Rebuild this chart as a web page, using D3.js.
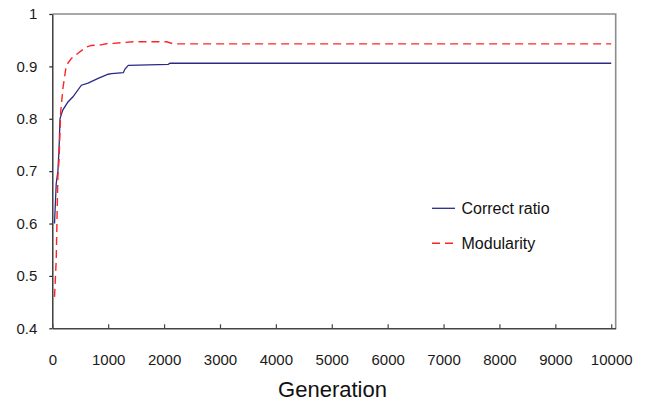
<!DOCTYPE html>
<html>
<head>
<meta charset="utf-8">
<script src="https://cdn.jsdelivr.net/npm/d3@7"></script>
<style>
  html, body { margin: 0; padding: 0; background: #fff; }
  svg { display: block; font-family: "Liberation Sans", Arial, sans-serif; }
</style>
</head>
<body>
<svg id="chart" width="651" height="409"></svg>
<script>
// Correct ratio over generations
const correctGen = [40, 70, 100, 120, 138, 160, 190, 280, 370, 520, 640, 820, 1000, 1060, 1270, 1300, 1360, 2075, 2105, 10000];
const correctVal = [0.600, 0.676, 0.700, 0.740, 0.800, 0.808, 0.817, 0.832, 0.842, 0.864, 0.868, 0.877, 0.885, 0.886, 0.888, 0.895, 0.902, 0.904, 0.906, 0.906];

// Modularity over generations
const modularityGen = [40, 70, 85, 100, 120, 150, 190, 250, 340, 460, 610, 700, 870, 1000, 1090, 1450, 2045, 2165, 10000];
const modularityVal = [0.460, 0.530, 0.613, 0.690, 0.720, 0.813, 0.858, 0.902, 0.915, 0.925, 0.937, 0.940, 0.941, 0.944, 0.944, 0.947, 0.947, 0.943, 0.943];

const xTicks = [0, 1000, 2000, 3000, 4000, 5000, 6000, 7000, 8000, 9000, 10000];
const yTicks = [0.4, 0.5, 0.6, 0.7, 0.8, 0.9, 1];
const seriesNames = ["Correct ratio", "Modularity"];
const xTitle = "Generation";

const svg = d3.select("#chart");
const plotLeft = 52.3, plotRight = 615.7, plotTop = 14, plotBottom = 328.3;

// plot area runs slightly past the last generation tick
const x = d3.scaleLinear().domain([0, 10080]).range([plotLeft, plotRight]);
const y = d3.scaleLinear().domain([0.4, 1]).range([plotBottom, plotTop]);

// top and right frame of the plot area
svg.append("path")
  .attr("d", `M${plotLeft},${plotTop}H${plotRight}V${plotBottom}`)
  .attr("fill", "none")
  .attr("stroke", "#8c8c8c")
  .attr("stroke-width", 1.6);

// y axis
const yAxis = svg.append("g")
  .attr("transform", `translate(${plotLeft},0)`)
  .call(d3.axisLeft(y).tickValues(yTicks).tickFormat(d3.format("")).tickSizeInner(3).tickSizeOuter(0).tickPadding(12));
yAxis.select(".domain").attr("stroke", "#222").attr("stroke-width", 1.3);
yAxis.selectAll(".tick line").attr("stroke", "#222").attr("stroke-width", 1.2);
yAxis.selectAll("text").attr("font-size", 15).attr("fill", "#1a1a1a")
  .attr("font-family", "Liberation Sans, Arial, sans-serif");

// x axis, ticks pointing into the plot
const xAxis = svg.append("g")
  .attr("transform", `translate(0,${plotBottom})`)
  .call(d3.axisBottom(x).tickValues(xTicks).tickFormat(d3.format("d")).tickSizeInner(-4).tickSizeOuter(0).tickPadding(26));
xAxis.select(".domain").attr("stroke", "#444").attr("stroke-width", 1.6);
xAxis.selectAll(".tick line").attr("stroke", "#444").attr("stroke-width", 1.2);
xAxis.selectAll("text").attr("font-size", 15).attr("fill", "#1a1a1a")
  .attr("font-family", "Liberation Sans, Arial, sans-serif");

// axis title
svg.append("text")
  .attr("x", (plotLeft + plotRight) / 2 - 1.5)
  .attr("y", 397)
  .attr("text-anchor", "middle")
  .attr("font-size", 22)
  .attr("fill", "#111")
  .text(xTitle);

const line = d3.line().x(d => x(d[0])).y(d => y(d[1]));

const series = [
  { name: seriesNames[0], pts: d3.zip(correctGen, correctVal), color: "#2a2a86", width: 1.3, dash: null },
  { name: seriesNames[1], pts: d3.zip(modularityGen, modularityVal), color: "#ff2424", width: 1.4, dash: "8,5" }
];

svg.append("g").selectAll("path")
  .data(series)
  .join("path")
  .attr("d", d => line(d.pts))
  .attr("fill", "none")
  .attr("stroke", d => d.color)
  .attr("stroke-width", d => d.width)
  .attr("stroke-dasharray", d => d.dash);

// legend
const legend = svg.append("g").selectAll("g")
  .data(series)
  .join("g")
  .attr("transform", (d, i) => `translate(432,${208.3 + i * 35})`);
legend.append("line")
  .attr("x1", 0).attr("x2", 23)
  .attr("stroke", d => d.color)
  .attr("stroke-width", d => d.width)
  .attr("stroke-dasharray", d => d.dash);
legend.append("text")
  .attr("x", 29.5)
  .attr("y", 6)
  .attr("font-size", 16)
  .attr("fill", "#111")
  .text(d => d.name);
</script>
</body>
</html>
